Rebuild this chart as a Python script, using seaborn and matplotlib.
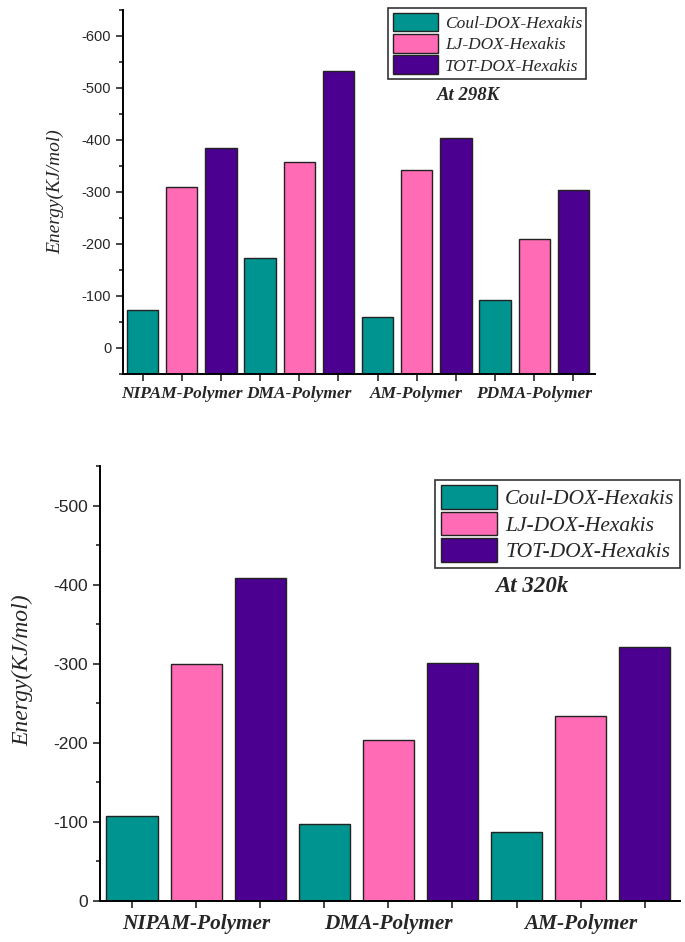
import numpy as np
import pandas as pd
import seaborn as sns
import matplotlib.pyplot as plt
from matplotlib.patches import Patch
from matplotlib.ticker import MultipleLocator

series = ["Coul-DOX-Hexakis", "LJ-DOX-Hexakis", "TOT-DOX-Hexakis"]
colors = ["#009490", "#FF6BB4", "#4B008F"]

polymers_298 = ["NIPAM-Polymer", "DMA-Polymer", "AM-Polymer", "PDMA-Polymer"]
coul_298 = [-73, -173, -60, -92]
lj_298 = [-310, -358, -342, -210]
tot_298 = [-384, -532, -403, -303]

polymers_320 = ["NIPAM-Polymer", "DMA-Polymer", "AM-Polymer"]
coul_320 = [-108, -98, -87]
lj_320 = [-300, -203, -234]
tot_320 = [-409, -301, -321]


def make_frame(polymers, coul, lj, tot):
    rows = []
    for i, p in enumerate(polymers):
        for j, (s, v) in enumerate(zip(series, [coul[i], lj[i], tot[i]])):
            rows.append({"pos": i * 3 + j + 1, "polymer": p, "series": s, "energy": v})
    return pd.DataFrame(rows)


df_298 = make_frame(polymers_298, coul_298, lj_298, tot_298)
df_320 = make_frame(polymers_320, coul_320, lj_320, tot_320)

sns.set_theme(style="ticks")
plt.rcParams["font.family"] = ["Liberation Sans", "DejaVu Sans"]
plt.rcParams["axes.unicode_minus"] = False
serif = ["Liberation Serif", "DejaVu Serif"]

fig = plt.figure(figsize=(6.85, 9.42), dpi=100)
ax1 = fig.add_axes([0.1796, 0.603, 0.689, 0.3864])
ax2 = fig.add_axes([0.146, 0.0435, 0.8467, 0.4618])


def draw(ax, df, polymers, base, top, tick_fs, lab_fs, xl_fs, leg_fs, title, leg_box, title_xy, handle_len):
    sns.barplot(data=df, x="pos", y="energy", hue="series", hue_order=series,
                palette=colors, saturation=1, dodge=False, native_scale=True, width=0.8,
                edgecolor="#222222", linewidth=1.0, ax=ax, legend=False)
    # bars start at the bottom of the axis, as in Origin
    for p in ax.patches:
        v = p.get_y() + p.get_height()
        p.set_y(base)
        p.set_height(v - base)
    ax.set_ylim(base, top)
    n = len(df)
    ax.set_xlim(0.5, n + 0.55)
    ax.set_xticks(df["pos"])
    labels = []
    for i in range(n):
        labels.append(polymers[i // 3] if i % 3 == 1 else "")
    ax.set_xticklabels(labels, family=serif, fontsize=xl_fs, fontweight="bold", fontstyle="italic")
    ax.yaxis.set_major_locator(MultipleLocator(100))
    ax.yaxis.set_minor_locator(MultipleLocator(50))
    ax.tick_params(axis="y", which="major", labelsize=tick_fs, length=5, width=1.2, direction="out")
    ax.tick_params(axis="y", which="minor", length=3, width=1.2, direction="out")
    ax.tick_params(axis="x", which="major", length=5, width=1.2, direction="out", pad=4)
    for s in ["top", "right"]:
        ax.spines[s].set_visible(False)
    for s in ["left", "bottom"]:
        ax.spines[s].set_linewidth(1.4)
        ax.spines[s].set_color("black")
    ax.set_xlabel("")
    ax.set_ylabel("Energy(KJ/mol)", family=serif, fontstyle="italic", fontsize=lab_fs)
    handles = [Patch(facecolor=c, edgecolor="#222222", linewidth=1.0, label=s) for c, s in zip(colors, series)]
    leg = ax.legend(handles=handles, loc="upper right", bbox_to_anchor=leg_box, frameon=True,
                    fancybox=False, edgecolor="#333333", framealpha=1,
                    prop={"family": serif, "style": "italic", "size": leg_fs},
                    handlelength=handle_len, handleheight=1.3, handletextpad=0.4,
                    labelspacing=0.12, borderpad=0.25, borderaxespad=0)
    leg.get_frame().set_linewidth(1.2)
    ax.text(title_xy[0], title_xy[1], title, transform=ax.transAxes, ha="center", va="center",
            family=serif, fontweight="bold", fontstyle="italic", fontsize=leg_fs + 1)


draw(ax1, df_298, polymers_298, 50, -650, 10.5, 14, 12.5, 12.5,
     "At 298K", (0.982, 1.005), (0.733, 0.765), 2.6)
draw(ax2, df_320, polymers_320, 0, -550, 12.5, 17, 15.3, 15.5,
     "At 320k", (1.0, 0.968), (0.744, 0.722), 2.6)
ax1.yaxis.set_label_coords(-0.125, 0.5)
ax2.yaxis.set_label_coords(-0.115, 0.53)

plt.savefig("out.png", dpi=100)
plt.close()
